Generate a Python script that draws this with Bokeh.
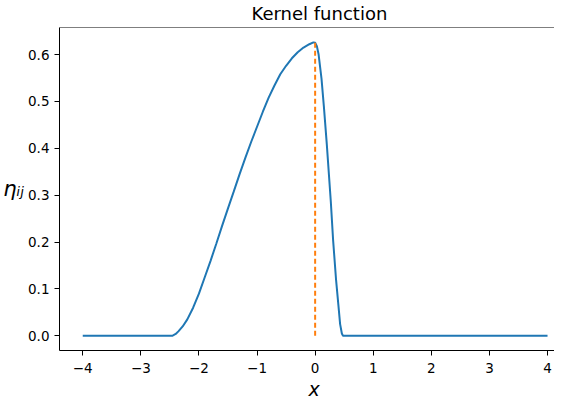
from bokeh.plotting import figure
from bokeh.models import Range1d, FixedTicker, Span, Title
from bokeh.embed import file_html
from bokeh.resources import INLINE

# curve
x_vals = [-4.0, -2.46, -2.40, -2.35, -2.28, -2.2, -2.1, -2.0, -1.9, -1.8,
          -1.7, -1.6, -1.5, -1.4, -1.3, -1.2, -1.1, -1.0, -0.9, -0.8,
          -0.7, -0.6, -0.5, -0.4, -0.3, -0.2, -0.1, -0.03, 0.0, 0.03,
          0.06, 0.11, 0.15, 0.20, 0.27, 0.31, 0.36, 0.40, 0.43, 0.46,
          0.48, 4.0]
eta_vals = [0.0, 0.0, 0.004, 0.010, 0.020, 0.035, 0.060, 0.090, 0.125, 0.160,
            0.197, 0.235, 0.272, 0.308, 0.345, 0.380, 0.414, 0.446, 0.478, 0.508,
            0.534, 0.558, 0.576, 0.592, 0.605, 0.615, 0.622, 0.626, 0.625, 0.618,
            0.600, 0.548, 0.490, 0.410, 0.286, 0.203, 0.120, 0.066, 0.025, 0.005,
            0.0, 0.0]
peak_x = [0.0]

x_ticks = [-4, -3, -2, -1, 0, 1, 2, 3, 4]
x_tick_labels = ["\u22124", "\u22123", "\u22122", "\u22121", "0", "1", "2", "3", "4"]
y_ticks = [0.0, 0.1, 0.2, 0.3, 0.4, 0.5, 0.6]
y_tick_labels = ["0.0", "0.1", "0.2", "0.3", "0.4", "0.5", "0.6"]

FONT = "DejaVu Sans"

p = figure(width=554, height=399, output_backend="svg", toolbar_location=None,
           x_range=Range1d(-4.4, 4.12), y_range=Range1d(-0.0313, 0.6577),
           title="Kernel function",
           min_border_left=57, min_border_right=0, min_border_top=0,
           min_border_bottom=0)

p.background_fill_color = "white"
p.border_fill_color = "white"
p.outline_line_color = None
p.xgrid.visible = False
p.ygrid.visible = False

p.title.text_font = FONT
p.title.text_font_size = "18px"
p.title.text_font_style = "normal"
p.title.text_color = "black"
p.title.align = "left"
p.title.offset = 192
p.title.vertical_align = "top"
p.title.standoff = 4

for ax in (p.xaxis[0], p.yaxis[0]):
    ax.axis_line_color = "black"
    ax.axis_line_width = 1
    ax.major_tick_line_color = "black"
    ax.major_tick_out = 5
    ax.major_tick_in = 0
    ax.minor_tick_line_color = None
    ax.major_label_text_font = FONT
    ax.major_label_text_font_size = "13.5px"
    ax.major_label_text_color = "black"
    ax.major_label_standoff = 5

p.xaxis[0].major_label_standoff = 7
p.xaxis[0].ticker = FixedTicker(ticks=x_ticks)
p.xaxis[0].major_label_overrides = {t: l for t, l in zip(x_ticks, x_tick_labels)}
p.yaxis[0].ticker = FixedTicker(ticks=y_ticks)
p.yaxis[0].major_label_overrides = {t: l for t, l in zip(y_ticks, y_tick_labels)}

# x axis label as a title below the axis
p.add_layout(Title(text="x", align="left", offset=249, vertical_align="bottom",
                   standoff=0, text_font=FONT, text_font_style="italic",
                   text_font_size="19px", text_color="black"), "below")

p.yaxis[0].axis_label = "\u03b7\u1d62\u2c7c"
p.yaxis[0].axis_label_orientation = "horizontal"
p.yaxis[0].axis_label_text_font = FONT
p.yaxis[0].axis_label_text_font_style = "italic"
p.yaxis[0].axis_label_text_font_size = "21px"
p.yaxis[0].axis_label_text_color = "black"
p.yaxis[0].axis_label_standoff = 1

# top spine
p.add_layout(Span(location=p.y_range.end, dimension="width",
                  line_color="black", line_width=1))

p.line(x_vals, eta_vals, line_color="#1f77b4", line_width=2)
p.segment(x0=peak_x, y0=[0.0], x1=peak_x, y1=[max(eta_vals)],
          line_color="#ff7f0e", line_width=2, line_dash="5 3")

open("out.html", "w").write(file_html(p, INLINE))
